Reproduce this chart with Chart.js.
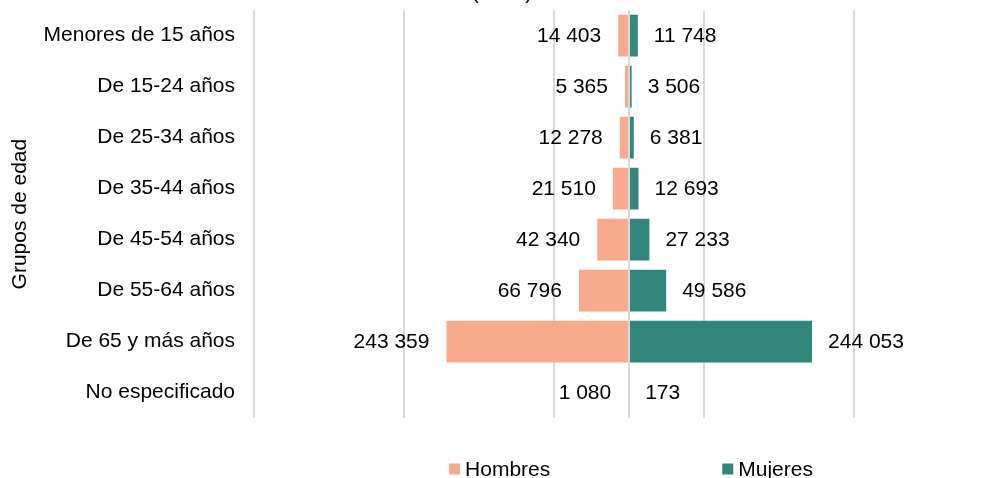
<!DOCTYPE html>
<html>
<head>
<meta charset="utf-8">
<script src="https://cdn.jsdelivr.net/npm/chart.js@4.4.1/dist/chart.umd.min.js"></script>
<style>
  html, body { margin: 0; padding: 0; background: #fff; overflow: hidden; }
  body { width: 992px; height: 478px; position: relative; }
  #wrap { position: absolute; left: 0; top: -30px; width: 1012px; height: 508px; }
</style>
</head>
<body>
<div id="wrap"><canvas id="pyramid"></canvas></div>
<script>
const categories = [
  "Menores de 15 años",
  "De 15-24 años",
  "De 25-34 años",
  "De 35-44 años",
  "De 45-54 años",
  "De 55-64 años",
  "De 65 y más años",
  "No especificado"
];
const hombres = [14403, 5365, 12278, 21510, 42340, 66796, 243359, 1080];
const mujeres = [11748, 3506, 6381, 12693, 27233, 49586, 244053, 173];
const xTicks = [-500000, -300000, -100000, 100000, 300000, 500000];
const titleText = "(2021)";

const font = "'Liberation Sans', Arial, sans-serif";
const salmon = "#F9AA8D";
const teal = "#33877A";
const gridColor = "#D9D9D9";

const fmt = (v) => String(Math.abs(v)).replace(/\B(?=(\d{3})+(?!\d))/g, " ");

// value labels at the outer end of each bar
const barLabels = {
  id: "barLabels",
  afterDatasetsDraw(chart) {
    const ctx = chart.ctx;
    ctx.save();
    ctx.font = "21px " + font;
    ctx.fillStyle = "#000";
    ctx.textBaseline = "middle";
    chart.data.datasets.forEach((ds, i) => {
      chart.getDatasetMeta(i).data.forEach((bar, j) => {
        const v = ds.data[j];
        if (v < 0) {
          ctx.textAlign = "right";
          ctx.fillText(fmt(v), bar.x - 17, bar.y + 1);
        } else {
          ctx.textAlign = "left";
          ctx.fillText(fmt(v), bar.x + 16, bar.y + 1);
        }
      });
    });
    ctx.restore();
  }
};

// legend under the plot, centred on the plot area
const bottomLegend = {
  id: "bottomLegend",
  afterDraw(chart) {
    const ctx = chart.ctx;
    const area = chart.chartArea;
    const box = 11, gap = 5, spacing = 172;
    ctx.save();
    ctx.font = "21px " + font;
    ctx.textBaseline = "middle";
    ctx.textAlign = "left";
    const items = chart.data.datasets.map((ds) => ({
      text: ds.label, color: ds.backgroundColor, w: ctx.measureText(ds.label).width
    }));
    const total = items.reduce((s, it) => s + box + gap + it.w, 0) + spacing * (items.length - 1);
    let x = (area.left + area.right) / 2 - total / 2 + 2;
    const y = area.bottom + 51;
    items.forEach((it) => {
      ctx.fillStyle = it.color;
      ctx.fillRect(x, y - 5.5, box, box);
      ctx.fillStyle = "#000";
      ctx.fillText(it.text, x + box + gap, y + 1);
      x += box + gap + it.w + spacing;
    });
    ctx.restore();
  }
};

new Chart(document.getElementById("pyramid"), {
  type: "bar",
  data: {
    labels: categories,
    datasets: [
      {
        label: "Hombres",
        data: hombres.map((v) => -v),
        backgroundColor: salmon,
        borderWidth: 0,
        categoryPercentage: 1,
        barPercentage: 0.82
      },
      {
        label: "Mujeres",
        data: mujeres,
        backgroundColor: teal,
        borderWidth: 0,
        categoryPercentage: 1,
        barPercentage: 0.82
      }
    ]
  },
  options: {
    indexAxis: "y",
    responsive: true,
    maintainAspectRatio: false,
    animation: false,
    devicePixelRatio: 1,
    layout: { padding: { top: 0, right: 8, bottom: 60, left: 0 } },
    plugins: {
      legend: { display: false },
      tooltip: { enabled: false },
      title: {
        display: true,
        text: titleText,
        color: "#000",
        font: { family: font, size: 21, weight: "normal" },
        padding: { top: 11, bottom: 4 }
      }
    },
    scales: {
      x: {
        type: "linear",
        stacked: true,
        min: -500000,
        max: 500000,
        afterBuildTicks: (scale) => { scale.ticks = xTicks.map((v) => ({ value: v })); },
        grid: { color: gridColor, lineWidth: 2, drawTicks: false },
        border: { display: false },
        ticks: { display: false }
      },
      x0: {
        type: "linear",
        axis: "x",
        position: "bottom",
        min: -500000,
        max: 500000,
        afterBuildTicks: (scale) => { scale.ticks = [{ value: 0 }]; },
        grid: { color: gridColor, lineWidth: 2, drawTicks: false, z: 1 },
        border: { display: false },
        ticks: { display: false }
      },
      y: {
        stacked: true,
        afterFit: (scale) => { scale.width = 254; },
        grid: { display: false },
        border: { display: false },
        ticks: { color: "#000", padding: 11, font: { family: font, size: 21 } },
        title: {
          display: true,
          text: "Grupos de edad",
          color: "#000",
          font: { family: font, size: 21 },
          padding: { top: 8, bottom: 0 }
        }
      }
    }
  },
  plugins: [barLabels, bottomLegend]
});
</script>
</body>
</html>
